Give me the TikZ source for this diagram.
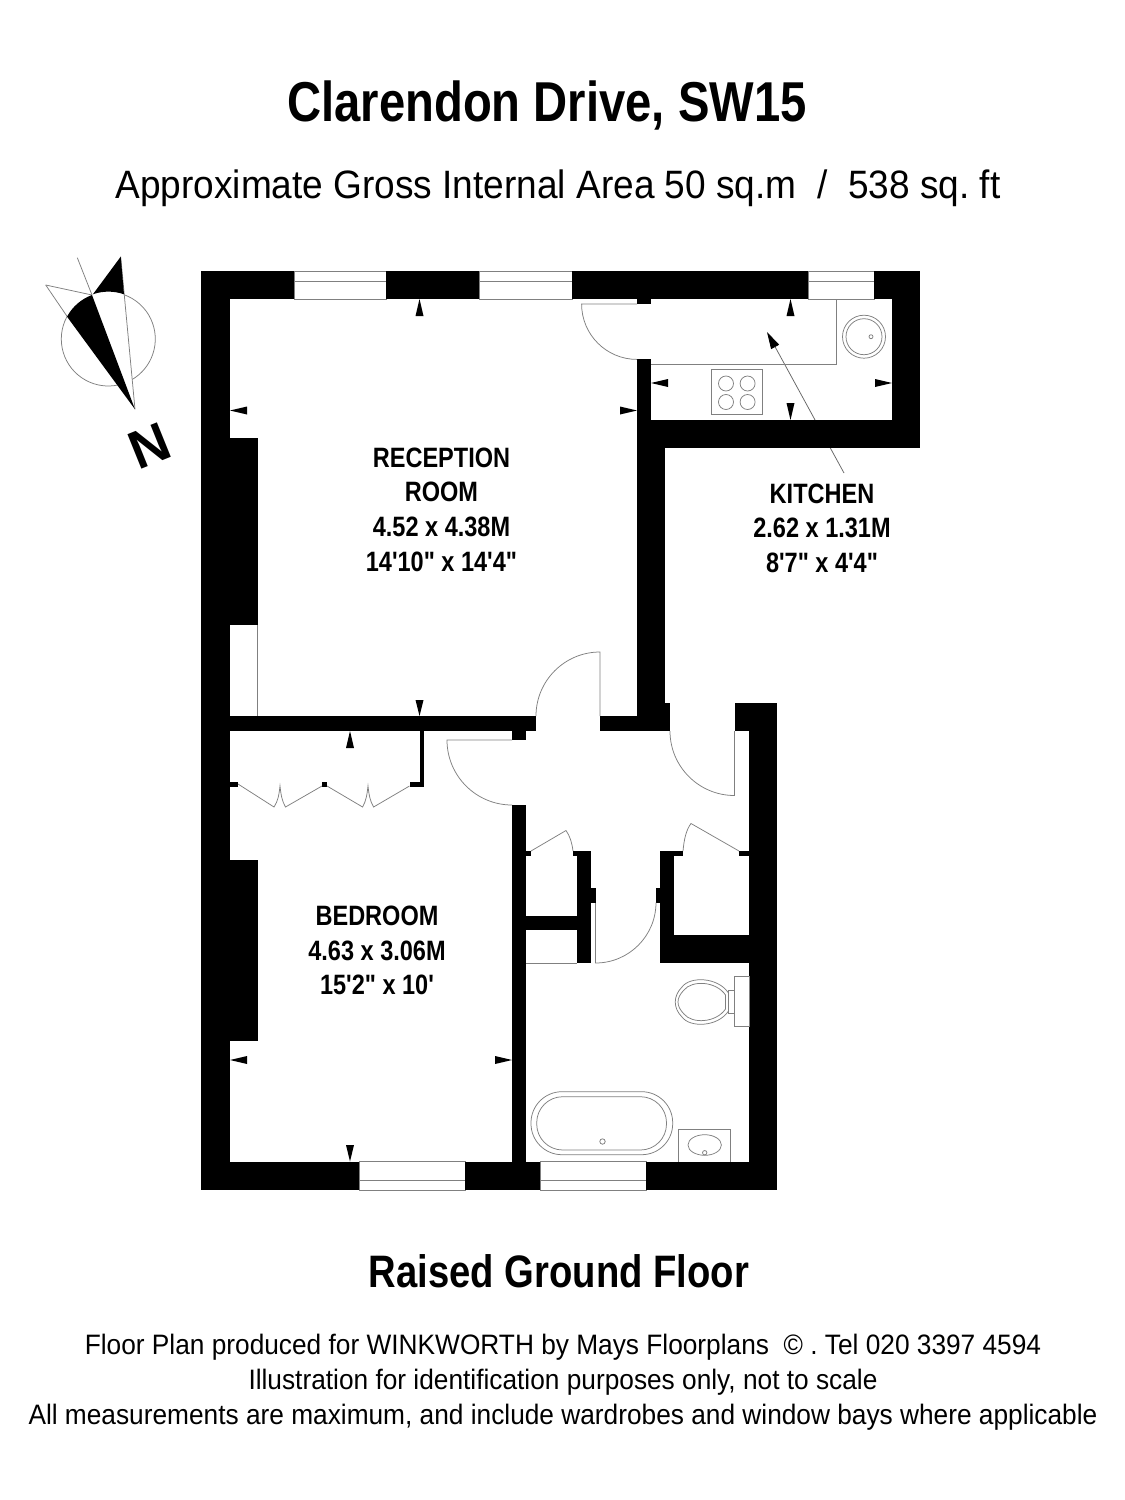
\documentclass[tikz,border=0pt]{standalone}
\usepackage{amsmath}
\usepackage{fontspec}
\usepackage{tikz}
\usetikzlibrary{arrows.meta}
\setmainfont{Liberation Sans}
\newfontfamily\narrowfont[FakeStretch=0.84]{Liberation Sans}
\newfontfamily\plainfont[FakeStretch=0.935]{Liberation Sans}
\frenchspacing

\begin{document}
\begin{tikzpicture}[x=1pt, y=-1pt,
		wall_style/.style={fill=black},
		line_style/.style={draw=black!50,line width=0.75pt},
		arrow_style/.style={draw=black!60,line width=0.75pt,-{Triangle[length=17pt,width=9pt,black]}},
		title_style/.style={font=\narrowfont\bfseries\fontsize{56.2}{60}\selectfont,inner sep=0pt},
		area_style/.style={font=\plainfont\fontsize{39.6}{44}\selectfont,inner sep=0pt},
		floor_style/.style={font=\narrowfont\bfseries\fontsize{45.5}{48}\selectfont,inner sep=0pt},
		note_style/.style={font=\plainfont\fontsize{28.1}{35}\selectfont,inner sep=0pt,align=center},
		room_style/.style={font=\narrowfont\bfseries\fontsize{28}{34.6}\selectfont,inner sep=0pt,align=center}]
		\useasboundingbox (0,0) rectangle (1125,1500);
		\fill[white] (0,0) rectangle (1125,1500);

		\node[title_style] (title) at (547,105) {Clarendon Drive, SW15};
		\node[area_style] (area) at (558,188) {Approximate Gross Internal Area 50 sq.m \ / \ 538 sq. ft};
		\node[floor_style] (floor) at (559,1271.5) {Raised Ground Floor};
		\node[note_style] (note) at (563,1382) {Floor Plan produced for WINKWORTH by Mays Floorplans \ \textcopyright\ . Tel 020 3397 4594\\Illustration for identification purposes only, not to scale\\All measurements are maximum, and include wardrobes and window bays where applicable};

		\node[room_style] (reception) at (441.5,509.5) {RECEPTION\\ROOM\\4.52 x 4.38M\\14'10" x 14'4"};
		\node[room_style] (kitchen) at (822,528) {KITCHEN\\2.62 x 1.31M\\8'7" x 4'4"};
		\node[room_style] (bedroom) at (377,950.5) {BEDROOM\\4.63 x 3.06M\\15'2" x 10'};

		\node[inner sep=0pt,rotate=22,font=\bfseries\fontsize{54}{60}\selectfont] (north) at (150,446) {N};
		\draw[line_style] (108.3,339) ++(289.4:47) arc[start angle=289.4,end angle=419.2,radius=47];
		\draw[line_style] (108.3,339) ++(208.5:47) arc[start angle=208.5,end angle=77.7,radius=47];
		\draw[line_style] (77.3,257.7) -- (92,295);
		\draw[line_style] (45.7,285) -- (92,295);
		\draw[line_style] (45.7,285) -- (67.3,316.7);
		\draw[line_style] (120.7,256.7) -- (135,409.3);
		\fill[wall_style] (135,409.3) -- (92,295) arc[start angle=249.7,end angle=208.5,radius=47] -- cycle;
		\fill[wall_style] (120.7,256.7) -- (124,294.3) arc[start angle=289.4,end angle=250.8,radius=47] -- cycle;

		\coordinate (arrow_a) at (844,473);
		\coordinate (arrow_b) at (767,332);
		\draw[arrow_style] (arrow_a) -- (arrow_b);

		\draw[line_style] (294,271.5) rectangle (386,299);
		\draw[line_style] (294,281) -- (386,281);
		\draw[line_style] (479,271.5) rectangle (572,299);
		\draw[line_style] (479,281) -- (572,281);
		\draw[line_style] (808,271.5) rectangle (874,299);
		\draw[line_style] (808,281) -- (874,281);
		\draw[line_style] (359,1161.5) rectangle (465,1190);
		\draw[line_style] (359,1180.5) -- (465,1180.5);
		\draw[line_style] (540,1161.5) rectangle (646,1190);
		\draw[line_style] (540,1180.5) -- (646,1180.5);

		\fill[wall_style] (201,271) rectangle (230,1190);
		\fill[wall_style] (201,271) rectangle (294,299);
		\fill[wall_style] (386,271) rectangle (479,299);
		\fill[wall_style] (572,271) rectangle (808,299);
		\fill[wall_style] (874,271) rectangle (920,299);
		\fill[wall_style] (892,271) rectangle (920,447.5);
		\fill[wall_style] (637,419.5) rectangle (920,447.5);
		\fill[wall_style] (637,299) rectangle (651,304);
		\fill[wall_style] (637,359) rectangle (651,420);
		\fill[wall_style] (637,420) rectangle (665,716);
		\fill[wall_style] (637,703) rectangle (670,731);
		\fill[wall_style] (600,716) rectangle (670,731);
		\fill[wall_style] (230,716) rectangle (535.7,731);
		\fill[wall_style] (512,731) rectangle (526,740);
		\fill[wall_style] (512,805) rectangle (526,1162);
		\fill[wall_style] (230,438) rectangle (258,625);
		\fill[wall_style] (230,860) rectangle (258,1041);
		\fill[wall_style] (201,1161.5) rectangle (359,1190);
		\fill[wall_style] (465,1161.5) rectangle (540,1190);
		\fill[wall_style] (646,1161.5) rectangle (776.5,1190);
		\fill[wall_style] (749,703) rectangle (776.5,1190);
		\fill[wall_style] (734.5,703) rectangle (776.5,731);
		\fill[wall_style] (660,851) rectangle (674,963);
		\fill[wall_style] (660,934.5) rectangle (749,963);
		\fill[wall_style] (674,851) rectangle (683,856);
		\fill[wall_style] (739,851) rectangle (749,856);
		\fill[wall_style] (655.7,888) rectangle (660,903);
		\fill[wall_style] (526,851) rectangle (531,856);
		\fill[wall_style] (577,851) rectangle (591,963);
		\fill[wall_style] (573,851) rectangle (577,856);
		\fill[wall_style] (591,888) rectangle (595.5,903);
		\fill[wall_style] (526,916) rectangle (577,930);
		\fill[wall_style] (419.5,731) rectangle (424,786);
		\fill[wall_style] (409.5,781.7) rectangle (424,786.5);
		\fill[wall_style] (230,781.7) rectangle (238,786.5);
		\fill[wall_style] (321.6,781.7) rectangle (326.7,786.5);

		\fill[wall_style] (790.5,299) -- (786.5,316) -- (794.5,316) -- cycle;
		\fill[wall_style] (790.5,420) -- (786.5,403) -- (794.5,403) -- cycle;
		\fill[wall_style] (651,383) -- (668,379) -- (668,387) -- cycle;
		\fill[wall_style] (892,383) -- (875,379) -- (875,387) -- cycle;
		\fill[wall_style] (637,410.5) -- (620,406.5) -- (620,414.5) -- cycle;
		\fill[wall_style] (230,410.5) -- (247,406.5) -- (247,414.5) -- cycle;
		\fill[wall_style] (419.5,299) -- (415.5,316) -- (423.5,316) -- cycle;
		\fill[wall_style] (419.5,716) -- (415.5,700) -- (423.5,700) -- cycle;
		\fill[wall_style] (350,731) -- (346,748) -- (354,748) -- cycle;
		\fill[wall_style] (350,1161.5) -- (346,1145) -- (354,1145) -- cycle;
		\fill[wall_style] (230,1060) -- (247,1056) -- (247,1064) -- cycle;
		\fill[wall_style] (512,1060) -- (495,1056) -- (495,1064) -- cycle;

		\draw[line_style] (637,304) -- (581.6,304) arc[start angle=180,end angle=90,radius=55.4];
		\draw[line_style] (600,716) -- (600,652) arc[start angle=270,end angle=180,radius=64];
		\draw[line_style] (512,740) -- (447,740) arc[start angle=180,end angle=90,radius=65];
		\draw[line_style] (734.5,731) -- (734.5,795.5) arc[start angle=90,end angle=180,radius=64.5];
		\draw[line_style] (595.5,903) -- (595.5,963) arc[start angle=90,end angle=0,radius=60.5];
		\draw[line_style] (531,851) -- (566,830.5) .. controls (570,836) and (572,843) .. (573,851);
		\draw[line_style] (739,851) -- (691,823.5) .. controls (686,830) and (684,840) .. (683,851);
		\draw[line_style] (238,784) -- (274,807) .. controls (278,801) and (279,795) .. (280,786) .. controls (281,795) and (282,801) .. (285.5,807) -- (322,786);
		\draw[line_style] (327,786) -- (362.6,807) .. controls (366,801) and (367,795) .. (368,786) .. controls (369,795) and (370,801) .. (373.6,807) -- (409.5,786);
		\draw[line_style] (257.5,625) -- (257.5,716);
		\draw[line_style] (526,963) -- (577,963);

		\draw[line_style] (651,364.5) -- (836.8,364.5) -- (836.8,299);
		\draw[line_style] (864,336.7) circle[radius=21.5];
		\draw[line_style] (864,336.7) circle[radius=18];
		\draw[line_style] (871,336.7) circle[radius=2];
		\draw[line_style] (711.5,369.5) rectangle (762.5,414.5);
		\draw[line_style] (726,383.5) circle[radius=7.5];
		\draw[line_style] (747.6,383.5) circle[radius=7.5];
		\draw[line_style] (726,402) circle[radius=7.5];
		\draw[line_style] (747.6,402) circle[radius=7.5];

		\draw[line_style] (734.3,976) rectangle (749,1026);
		\draw[line_style] (728.5,990.5) rectangle (734.3,1013.5);
		\draw[line_style] (728.5,993) .. controls (718,977) and (690,976) .. (682,987) .. controls (673,996) and (673,1008) .. (682,1017) .. controls (690,1028) and (718,1027) .. (728.5,1011) -- cycle;
		\draw[line_style] (725.5,995) .. controls (716,981) and (692,980) .. (684,990) .. controls (676,998) and (676,1006) .. (684,1014) .. controls (692,1024) and (716,1023) .. (725.5,1009) -- cycle;
		\draw[line_style,rounded corners=31pt] (531,1091.7) rectangle (672.7,1154.7);
		\draw[line_style,rounded corners=26pt] (536.7,1096.7) rectangle (666.5,1150);
		\draw[line_style] (602.5,1141.5) circle[radius=2.7];
		\draw[line_style] (678.5,1161.5) -- (678.5,1129.6) -- (730,1129.6) -- (730,1161.5);
		\draw[line_style] (704.7,1145) ellipse[x radius=16.7,y radius=10.3];
		\draw[line_style] (704.7,1152.7) circle[radius=2.2];
\end{tikzpicture}
\end{document}
